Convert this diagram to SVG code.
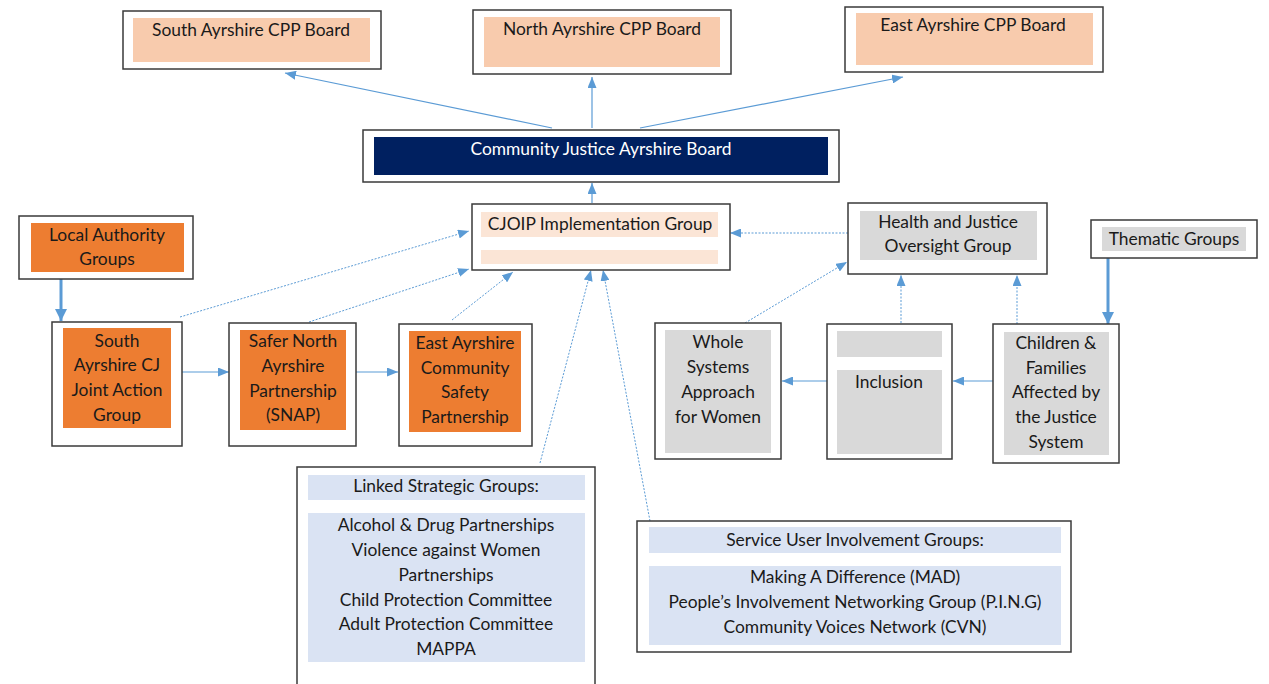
<svg xmlns="http://www.w3.org/2000/svg" width="1269" height="684" viewBox="0 0 1269 684">
<defs>
<style>
.box{fill:#fff;stroke:#3a3a3a;stroke-width:1.5}
.peach{fill:#F8CBAD}
.lpeach{fill:#FBE5D6}
.navy{fill:#002060}
.orange{fill:#ED7D31}
.grey{fill:#D9D9D9}
.lblue{fill:#DAE3F3}
text{font-family:Lato,"Liberation Sans",sans-serif;font-size:17.4px;fill:#1a1a1a;text-anchor:middle}
.w{fill:#fff}
.c{stroke:#5B9BD5;stroke-width:1.2;fill:none}
.d{stroke:#5B9BD5;stroke-width:1;fill:none;stroke-dasharray:2,1.5}
.t{stroke:#5B9BD5;stroke-width:3;fill:none}
</style>
<marker id="a" markerUnits="userSpaceOnUse" markerWidth="11" markerHeight="9" refX="11" refY="4.5" orient="auto"><path d="M0,0 L11,4.5 L0,9 z" fill="#5B9BD5"/></marker>
<marker id="b" markerUnits="userSpaceOnUse" markerWidth="12" markerHeight="12" refX="12" refY="6" orient="auto"><path d="M0,0 L12,6 L0,12 z" fill="#5B9BD5"/></marker>
</defs>
<rect width="1269" height="684" fill="#fff"/>

<g id="connectors">
<line class="c" x1="552" y1="128" x2="285" y2="73" marker-end="url(#a)"/>
<line class="c" x1="592" y1="128" x2="592" y2="77" marker-end="url(#a)"/>
<line class="c" x1="640" y1="128" x2="903" y2="77" marker-end="url(#a)"/>
<line class="c" x1="592" y1="203" x2="592" y2="183" marker-end="url(#a)"/>
<line class="d" x1="180" y1="317" x2="469" y2="231" marker-end="url(#a)"/>
<line class="d" x1="309" y1="322" x2="469" y2="269" marker-end="url(#a)"/>
<line class="d" x1="452" y1="320" x2="513" y2="272" marker-end="url(#a)"/>
<line class="d" x1="540" y1="463" x2="591" y2="270" marker-end="url(#a)"/>
<line class="d" x1="650" y1="521" x2="603" y2="270" marker-end="url(#a)"/>
<line class="d" x1="848" y1="233" x2="730" y2="233" marker-end="url(#a)"/>
<line class="d" x1="745" y1="323" x2="847" y2="262" marker-end="url(#a)"/>
<line class="d" x1="901" y1="323" x2="901" y2="275" marker-end="url(#a)"/>
<line class="d" x1="1017" y1="324" x2="1017" y2="275" marker-end="url(#a)"/>
<line class="t" x1="1108" y1="258" x2="1108" y2="324" marker-end="url(#b)"/>
<line class="t" x1="61" y1="279" x2="61" y2="321" marker-end="url(#b)"/>
<line class="c" x1="182" y1="372" x2="229" y2="372" marker-end="url(#a)"/>
<line class="c" x1="356" y1="372" x2="398" y2="372" marker-end="url(#a)"/>
<line class="c" x1="993" y1="381" x2="953" y2="381" marker-end="url(#a)"/>
<line class="c" x1="827" y1="381" x2="782" y2="381" marker-end="url(#a)"/>
</g>

<g id="south-cpp">
<rect class="box" x="123" y="11" width="258" height="58"/>
<rect class="peach" x="133" y="18" width="237" height="44"/>
<text x="251" y="36">South Ayrshire CPP Board</text>
</g>
<g id="north-cpp">
<rect class="box" x="473" y="10" width="258" height="64"/>
<rect class="peach" x="484" y="17" width="236" height="50"/>
<text x="602" y="35">North Ayrshire CPP Board</text>
</g>
<g id="east-cpp">
<rect class="box" x="845" y="7" width="258" height="65"/>
<rect class="peach" x="856" y="13" width="237" height="52"/>
<text x="973" y="31">East Ayrshire CPP Board</text>
</g>
<g id="cjab">
<rect class="box" x="363" y="130" width="476" height="52"/>
<rect class="navy" x="374" y="137" width="454" height="38"/>
<text class="w" x="601" y="155">Community Justice Ayrshire Board</text>
</g>
<g id="cjoip">
<rect class="box" x="472" y="204" width="258" height="66"/>
<rect class="lpeach" x="481" y="212" width="237" height="25"/>
<rect class="lpeach" x="481" y="250" width="237" height="14"/>
<text x="600" y="230">CJOIP Implementation Group</text>
</g>
<g id="hjog">
<rect class="box" x="848" y="203" width="199" height="71"/>
<rect class="grey" x="860" y="211" width="177" height="49"/>
<text x="948" y="228">Health and Justice</text>
<text x="948" y="252">Oversight Group</text>
</g>
<g id="thematic">
<rect class="box" x="1091" y="220" width="166" height="38"/>
<rect class="grey" x="1102" y="227" width="144" height="24"/>
<text x="1174" y="245">Thematic Groups</text>
</g>
<g id="local">
<rect class="box" x="19" y="216" width="174" height="63"/>
<rect class="orange" x="31" y="223" width="153" height="49"/>
<text x="107" y="241">Local Authority</text>
<text x="107" y="265">Groups</text>
</g>
<g id="south-cj">
<rect class="box" x="52" y="322" width="130" height="124"/>
<rect class="orange" x="63" y="328" width="108" height="100"/>
<text x="117" y="347">South</text>
<text x="117" y="371">Ayrshire CJ</text>
<text x="117" y="396">Joint Action</text>
<text x="117" y="421">Group</text>
</g>
<g id="snap">
<rect class="box" x="229" y="323" width="127" height="123"/>
<rect class="orange" x="240" y="330" width="106" height="100"/>
<text x="293" y="347">Safer North</text>
<text x="293" y="372">Ayrshire</text>
<text x="293" y="397">Partnership</text>
<text x="293" y="421">(SNAP)</text>
</g>
<g id="east-csp">
<rect class="box" x="399" y="324" width="133" height="122"/>
<rect class="orange" x="409" y="331" width="112" height="101"/>
<text x="465" y="349">East Ayrshire</text>
<text x="465" y="374">Community</text>
<text x="465" y="398">Safety</text>
<text x="465" y="423">Partnership</text>
</g>
<g id="whole-systems">
<rect class="box" x="655" y="323" width="126" height="136"/>
<rect class="grey" x="665" y="330" width="106" height="123"/>
<text x="718" y="348">Whole</text>
<text x="718" y="373">Systems</text>
<text x="718" y="398">Approach</text>
<text x="718" y="423">for Women</text>
</g>
<g id="inclusion">
<rect class="box" x="827" y="324" width="125" height="135"/>
<rect class="grey" x="837" y="331" width="105" height="26"/>
<rect class="grey" x="837" y="370" width="105" height="84"/>
<text x="889" y="388">Inclusion</text>
</g>
<g id="children">
<rect class="box" x="993" y="324" width="126" height="139"/>
<rect class="grey" x="1004" y="332" width="105" height="123"/>
<text x="1056" y="349">Children &amp;</text>
<text x="1056" y="374">Families</text>
<text x="1056" y="398">Affected by</text>
<text x="1056" y="423">the Justice</text>
<text x="1056" y="448">System</text>
</g>
<g id="linked">
<rect class="box" x="297" y="467" width="298" height="240"/>
<rect class="lblue" x="308" y="475" width="277" height="25"/>
<rect class="lblue" x="308" y="513" width="277" height="149"/>
<text x="446" y="492">Linked Strategic Groups:</text>
<text x="446" y="531">Alcohol &amp; Drug Partnerships</text>
<text x="446" y="556">Violence against Women</text>
<text x="446" y="581">Partnerships</text>
<text x="446" y="606">Child Protection Committee</text>
<text x="446" y="630">Adult Protection Committee</text>
<text x="446" y="655">MAPPA</text>
</g>
<g id="service-user">
<rect class="box" x="637" y="521" width="434" height="131"/>
<rect class="lblue" x="649" y="527" width="412" height="26"/>
<rect class="lblue" x="649" y="566" width="412" height="79"/>
<text x="855" y="546">Service User Involvement Groups:</text>
<text x="855" y="583">Making A Difference (MAD)</text>
<text x="855" y="608">People’s Involvement Networking Group (P.I.N.G)</text>
<text x="855" y="633">Community Voices Network (CVN)</text>
</g>
</svg>
